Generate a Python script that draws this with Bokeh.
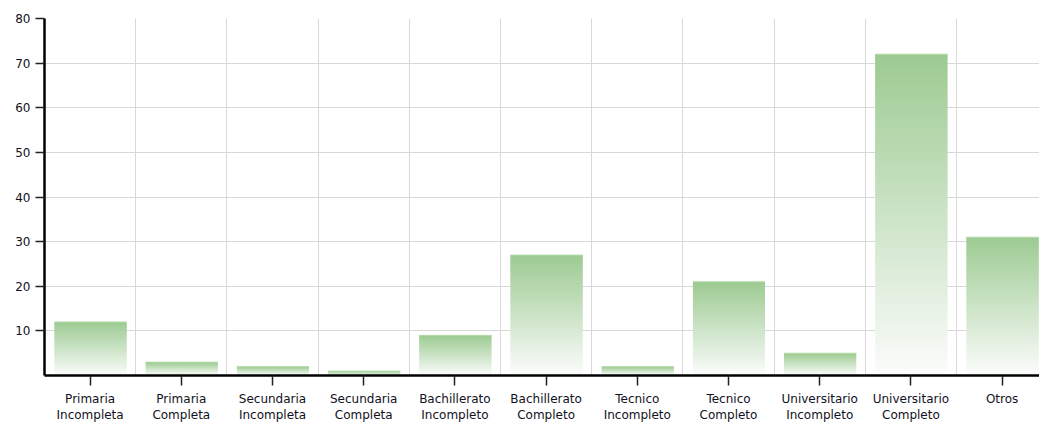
from bokeh.plotting import figure
from bokeh.models import Range1d, FixedTicker
from bokeh.embed import file_html
from bokeh.resources import INLINE

categories = ["Primaria\nIncompleta", "Primaria\nCompleta", "Secundaria\nIncompleta",
              "Secundaria\nCompleta", "Bachillerato\nIncompleto", "Bachillerato\nCompleto",
              "Tecnico\nIncompleto", "Tecnico\nCompleto", "Universitario\nIncompleto",
              "Universitario\nCompleto", "Otros"]
values = [12, 3, 2, 1, 9, 27, 2, 21, 5, 72, 31]
y_ticks = [10, 20, 30, 40, 50, 60, 70, 80]

top_rgb = (157, 203, 146)
bot_rgb = (252, 253, 252)

p = figure(width=1039, height=425, output_backend="svg", toolbar_location=None,
           x_range=Range1d(-0.5, 10.41), y_range=Range1d(0, 80),
           min_border_left=44, min_border_right=0, min_border_top=18, min_border_bottom=49)
p.outline_line_color = None
p.background_fill_color = "white"

# gradient bars built as thin overlapping slices of each bar (~2px each)
lefts, rights, bots, tops, cols = [], [], [], [], []
w = 0.79
for i, v in enumerate(values):
    n = max(3, int(round(v * 358 / 80 / 2)))
    for k in range(n):
        f0 = k / n
        f1 = min(1.0, (k + 2.0) / n)
        t = (k + 0.5) / n  # 0 bottom -> 1 top
        r = int(bot_rgb[0] + (top_rgb[0] - bot_rgb[0]) * t)
        g = int(bot_rgb[1] + (top_rgb[1] - bot_rgb[1]) * t)
        b = int(bot_rgb[2] + (top_rgb[2] - bot_rgb[2]) * t)
        lefts.append(i - w / 2 + 0.005)
        rights.append(i + w / 2 + 0.005)
        bots.append(v * f0)
        tops.append(v * f1)
        cols.append("#%02x%02x%02x" % (r, g, b))
p.quad(left=lefts, right=rights, bottom=bots, top=tops, fill_color=cols, line_color=None)
# light top edge
p.segment(x0=[i - w / 2 + 0.005 for i in range(len(values))],
          x1=[i + w / 2 + 0.005 for i in range(len(values))],
          y0=values, y1=values, line_color="#b8dcae", line_width=1)

p.xaxis.ticker = FixedTicker(ticks=list(range(len(categories))))
p.xaxis.major_label_overrides = {i: c for i, c in enumerate(categories)}
p.yaxis.ticker = FixedTicker(ticks=y_ticks)

p.xgrid.ticker = FixedTicker(ticks=[i + 0.5 for i in range(len(categories) - 1)])
p.xgrid.grid_line_color = "#d8d8d8"
p.ygrid.grid_line_color = "#d8d8d8"
p.xgrid.level = "underlay"
p.ygrid.level = "underlay"

for ax in (p.xaxis, p.yaxis):
    ax.axis_line_color = "black"
    ax.axis_line_width = 2.5
    ax.major_tick_line_color = "#222222"
    ax.major_tick_line_width = 1.5
    ax.minor_tick_line_color = None
    ax.major_tick_in = 0
    ax.major_label_text_font = "DejaVu Sans"
    ax.major_label_text_font_size = "12px"
    ax.major_label_text_color = "#111122"
p.xaxis.major_tick_out = 10
p.yaxis.major_tick_out = 9
p.xaxis.major_label_standoff = 6
p.yaxis.major_label_standoff = 5

open("out.html", "w").write(file_html(p, INLINE))
